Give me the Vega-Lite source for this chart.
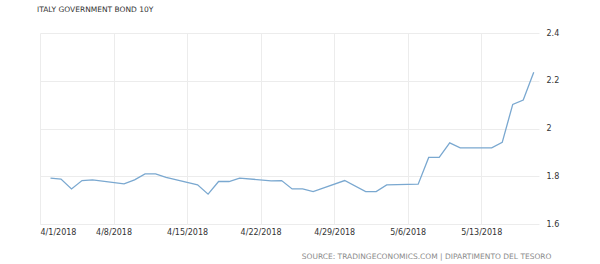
{
  "$schema": "https://vega.github.io/schema/vega-lite/v6.json",
  "width": 499,
  "height": 191,
  "autosize": {"type": "none"},
  "padding": {"left": 40, "top": 33, "right": 61, "bottom": 40},
  "background": "white",
  "config": {"view": {"stroke": null}, "font": "DejaVu Sans"},
  "title": {
    "text": "ITALY GOVERNMENT BOND 10Y",
    "anchor": "start",
    "frame": "group",
    "dx": -3,
    "offset": 16,
    "fontSize": 7.5,
    "fontWeight": "normal",
    "color": "#333333"
  },
  "data": {
    "values": [
      {"date": "2018-04-02", "yield": 1.792},
      {"date": "2018-04-03", "yield": 1.788},
      {"date": "2018-04-04", "yield": 1.747},
      {"date": "2018-04-05", "yield": 1.782},
      {"date": "2018-04-06", "yield": 1.785},
      {"date": "2018-04-09", "yield": 1.768},
      {"date": "2018-04-10", "yield": 1.785},
      {"date": "2018-04-11", "yield": 1.81},
      {"date": "2018-04-12", "yield": 1.81},
      {"date": "2018-04-13", "yield": 1.795},
      {"date": "2018-04-16", "yield": 1.764},
      {"date": "2018-04-17", "yield": 1.725},
      {"date": "2018-04-18", "yield": 1.778},
      {"date": "2018-04-19", "yield": 1.778},
      {"date": "2018-04-20", "yield": 1.792},
      {"date": "2018-04-23", "yield": 1.781},
      {"date": "2018-04-24", "yield": 1.782},
      {"date": "2018-04-25", "yield": 1.747},
      {"date": "2018-04-26", "yield": 1.747},
      {"date": "2018-04-27", "yield": 1.736},
      {"date": "2018-04-30", "yield": 1.782},
      {"date": "2018-05-02", "yield": 1.736},
      {"date": "2018-05-03", "yield": 1.736},
      {"date": "2018-05-04", "yield": 1.764},
      {"date": "2018-05-07", "yield": 1.767},
      {"date": "2018-05-08", "yield": 1.879},
      {"date": "2018-05-09", "yield": 1.879},
      {"date": "2018-05-10", "yield": 1.94},
      {"date": "2018-05-11", "yield": 1.919},
      {"date": "2018-05-14", "yield": 1.919},
      {"date": "2018-05-15", "yield": 1.942},
      {"date": "2018-05-16", "yield": 2.101},
      {"date": "2018-05-17", "yield": 2.119},
      {"date": "2018-05-18", "yield": 2.236}
    ]
  },
  "mark": {"type": "line", "color": "#7aa8d0", "strokeWidth": 1.3},
  "encoding": {
    "x": {
      "field": "date",
      "type": "temporal",
      "scale": {
        "type": "utc",
        "domain": [
          {"year": 2018, "month": 4, "date": 1, "utc": true},
          {"year": 2018, "month": 5, "date": 18, "hours": 12, "utc": true}
        ]
      },
      "axis": {
        "values": [
          {"year": 2018, "month": 4, "date": 1, "utc": true},
          {"year": 2018, "month": 4, "date": 8, "utc": true},
          {"year": 2018, "month": 4, "date": 15, "utc": true},
          {"year": 2018, "month": 4, "date": 22, "utc": true},
          {"year": 2018, "month": 4, "date": 29, "utc": true},
          {"year": 2018, "month": 5, "date": 6, "utc": true},
          {"year": 2018, "month": 5, "date": 13, "utc": true}
        ],
        "labelExpr": "utcFormat(datum.value, '%-m/%-d/%Y')",
        "domain": false,
        "ticks": false,
        "grid": true,
        "gridColor": "#ececec",
        "labelPadding": 4,
        "labelFontSize": 8,
        "labelColor": "#333333",
        "labelOverlap": false,
        "title": "SOURCE: TRADINGECONOMICS.COM | DIPARTIMENTO DEL TESORO",
        "titleX": 511,
        "titleY": 32,
        "titleAlign": "right",
        "titleAnchor": null,
        "titleBaseline": "middle",
        "titleFontSize": 7.5,
        "titleFontWeight": "normal",
        "titleColor": "#8a8a8a"
      }
    },
    "y": {
      "field": "yield",
      "type": "quantitative",
      "scale": {"domain": [1.6, 2.4], "nice": false, "zero": false},
      "axis": {
        "orient": "right",
        "values": [1.6, 1.8, 2, 2.2, 2.4],
        "format": "~g",
        "domain": false,
        "ticks": false,
        "grid": true,
        "gridColor": "#ececec",
        "labelPadding": 7,
        "labelFontSize": 8,
        "labelColor": "#333333",
        "title": null
      }
    }
  }
}
